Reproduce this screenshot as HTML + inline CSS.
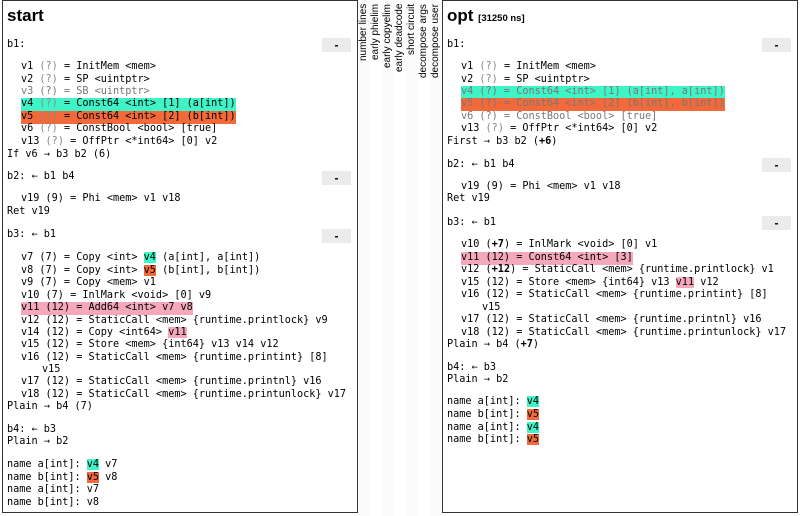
<!DOCTYPE html>
<html><head><meta charset="utf-8"><style>
body{margin:0;width:800px;height:516px;background:#fff;position:relative;overflow:hidden;font-family:"DejaVu Sans Mono","Liberation Mono",monospace;font-size:10.2px;color:#000}
.panel{position:absolute;top:0;height:513px;border:1px solid #333;box-sizing:border-box}
.l{position:absolute;white-space:pre;line-height:12.5px;height:12.5px}
.g{color:#888}
.d{color:#777}
.A{background:#3ff5c8}
.B{background:#f26a3a}
.P{background:#f5a8bb}
.btn{position:absolute;width:29px;height:14px;background:#ebebeb;font-family:"Liberation Sans",sans-serif;font-size:12px;font-weight:bold;text-align:center;line-height:14px}
.title{position:absolute;font-family:"Liberation Sans",sans-serif;font-weight:bold;font-size:17px}
.col{position:absolute;top:0;width:12px;height:516px}
.vt{position:absolute;top:4px;height:120px;width:12px;writing-mode:vertical-rl;transform:rotate(180deg);text-align:end;font-family:"Liberation Sans",sans-serif;font-size:10px;line-height:12px;white-space:nowrap}
</style></head><body>
<div class="panel" style="left:2px;width:356px"></div>
<div class="panel" style="left:442px;width:356px"></div>

<div class="col" style="left:358px;background:#fbfbfb"></div>
<div class="col" style="left:382px;background:#fbfbfb"></div>
<div class="col" style="left:406px;background:#fbfbfb"></div>
<div class="col" style="left:430px;background:#fbfbfb"></div>
<div class="vt" style="left:358px">number lines</div>
<div class="vt" style="left:370px">early phielim</div>
<div class="vt" style="left:382px">early copyelim</div>
<div class="vt" style="left:394px">early deadcode</div>
<div class="vt" style="left:406px">short circuit</div>
<div class="vt" style="left:418px">decompose args</div>
<div class="vt" style="left:430px">decompose user</div>

<!-- LEFT -->
<div class="title" style="left:7px;top:6px">start</div>
<div class="btn" style="left:322px;top:38px">-</div>
<div class="btn" style="left:322px;top:171px">-</div>
<div class="btn" style="left:322px;top:229px">-</div>
<div class="l" style="left:7px;top:39px">b1:</div>
<div class="l" style="left:21px;top:61px">v1 <span class="g">(?)</span> = InitMem &lt;mem&gt;</div>
<div class="l" style="left:21px;top:73.5px">v2 <span class="g">(?)</span> = SP &lt;uintptr&gt;</div>
<div class="l d" style="left:21px;top:86px">v3 (?) = SB &lt;uintptr&gt;</div>
<div class="l A" style="left:21px;top:98px">v4 <span class="g">(?)</span> = Const64 &lt;int&gt; [1] (a[int])</div>
<div class="l B" style="left:21px;top:111px">v5 <span class="g">(?)</span> = Const64 &lt;int&gt; [2] (b[int])</div>
<div class="l" style="left:21px;top:123px">v6 <span class="g">(?)</span> = ConstBool &lt;bool&gt; [true]</div>
<div class="l" style="left:21px;top:136px">v13 <span class="g">(?)</span> = OffPtr &lt;*int64&gt; [0] v2</div>
<div class="l" style="left:7px;top:149px">If v6 → b3 b2 (6)</div>
<div class="l" style="left:7px;top:171px">b2: ← b1 b4</div>
<div class="l" style="left:21px;top:193px">v19 (9) = Phi &lt;mem&gt; v1 v18</div>
<div class="l" style="left:7px;top:206px">Ret v19</div>
<div class="l" style="left:7px;top:229px">b3: ← b1</div>
<div class="l" style="left:21px;top:252px">v7 (7) = Copy &lt;int&gt; <span class="A">v4</span> (a[int], a[int])</div>
<div class="l" style="left:21px;top:264.5px">v8 (7) = Copy &lt;int&gt; <span class="B">v5</span> (b[int], b[int])</div>
<div class="l" style="left:21px;top:277px">v9 (7) = Copy &lt;mem&gt; v1</div>
<div class="l" style="left:21px;top:289.5px">v10 (7) = InlMark &lt;void&gt; [0] v9</div>
<div class="l P" style="left:21px;top:302px">v11 (12) = Add64 &lt;int&gt; v7 v8</div>
<div class="l" style="left:21px;top:314.5px">v12 (12) = StaticCall &lt;mem&gt; {runtime.printlock} v9</div>
<div class="l" style="left:21px;top:327px">v14 (12) = Copy &lt;int64&gt; <span class="P">v11</span></div>
<div class="l" style="left:21px;top:339px">v15 (12) = Store &lt;mem&gt; {int64} v13 v14 v12</div>
<div class="l" style="left:21px;top:352px">v16 (12) = StaticCall &lt;mem&gt; {runtime.printint} [8]</div>
<div class="l" style="left:42px;top:364px">v15</div>
<div class="l" style="left:21px;top:376px">v17 (12) = StaticCall &lt;mem&gt; {runtime.printnl} v16</div>
<div class="l" style="left:21px;top:389px">v18 (12) = StaticCall &lt;mem&gt; {runtime.printunlock} v17</div>
<div class="l" style="left:7px;top:401px">Plain → b4 (7)</div>
<div class="l" style="left:7px;top:424px">b4: ← b3</div>
<div class="l" style="left:7px;top:436px">Plain → b2</div>
<div class="l" style="left:7px;top:459px">name a[int]: <span class="A">v4</span> v7</div>
<div class="l" style="left:7px;top:471.5px">name b[int]: <span class="B">v5</span> v8</div>
<div class="l" style="left:7px;top:484px">name a[int]: v7</div>
<div class="l" style="left:7px;top:497px">name b[int]: v8</div>

<!-- RIGHT -->
<div class="title" style="left:447px;top:6px">opt <span style="font-size:9.5px">[31250 ns]</span></div>
<div class="btn" style="left:762px;top:38px">-</div>
<div class="btn" style="left:762px;top:158px">-</div>
<div class="btn" style="left:762px;top:216px">-</div>
<div class="l" style="left:447px;top:39px">b1:</div>
<div class="l" style="left:461px;top:61px">v1 <span class="g">(?)</span> = InitMem &lt;mem&gt;</div>
<div class="l" style="left:461px;top:73.5px">v2 <span class="g">(?)</span> = SP &lt;uintptr&gt;</div>
<div class="l A d" style="left:461px;top:86px">v4 (?) = Const64 &lt;int&gt; [1] (a[int], a[int])</div>
<div class="l B d" style="left:461px;top:98px">v5 (?) = Const64 &lt;int&gt; [2] (b[int], b[int])</div>
<div class="l d" style="left:461px;top:111px">v6 (?) = ConstBool &lt;bool&gt; [true]</div>
<div class="l" style="left:461px;top:123px">v13 <span class="g">(?)</span> = OffPtr &lt;*int64&gt; [0] v2</div>
<div class="l" style="left:447px;top:136px">First → b3 b2 (<b>+6</b>)</div>
<div class="l" style="left:447px;top:159px">b2: ← b1 b4</div>
<div class="l" style="left:461px;top:181px">v19 (9) = Phi &lt;mem&gt; v1 v18</div>
<div class="l" style="left:447px;top:193px">Ret v19</div>
<div class="l" style="left:447px;top:216.5px">b3: ← b1</div>
<div class="l" style="left:461px;top:239px">v10 (<b>+7</b>) = InlMark &lt;void&gt; [0] v1</div>
<div class="l P" style="left:461px;top:252px">v11 (12) = Const64 &lt;int&gt; [3]</div>
<div class="l" style="left:461px;top:264px">v12 (<b>+12</b>) = StaticCall &lt;mem&gt; {runtime.printlock} v1</div>
<div class="l" style="left:461px;top:277px">v15 (12) = Store &lt;mem&gt; {int64} v13 <span class="P">v11</span> v12</div>
<div class="l" style="left:461px;top:289px">v16 (12) = StaticCall &lt;mem&gt; {runtime.printint} [8]</div>
<div class="l" style="left:482px;top:302px">v15</div>
<div class="l" style="left:461px;top:314px">v17 (12) = StaticCall &lt;mem&gt; {runtime.printnl} v16</div>
<div class="l" style="left:461px;top:327px">v18 (12) = StaticCall &lt;mem&gt; {runtime.printunlock} v17</div>
<div class="l" style="left:447px;top:339px">Plain → b4 (<b>+7</b>)</div>
<div class="l" style="left:447px;top:361.5px">b4: ← b3</div>
<div class="l" style="left:447px;top:374px">Plain → b2</div>
<div class="l" style="left:447px;top:396px">name a[int]: <span class="A">v4</span></div>
<div class="l" style="left:447px;top:409px">name b[int]: <span class="B">v5</span></div>
<div class="l" style="left:447px;top:422px">name a[int]: <span class="A">v4</span></div>
<div class="l" style="left:447px;top:434px">name b[int]: <span class="B">v5</span></div>
</body></html>
